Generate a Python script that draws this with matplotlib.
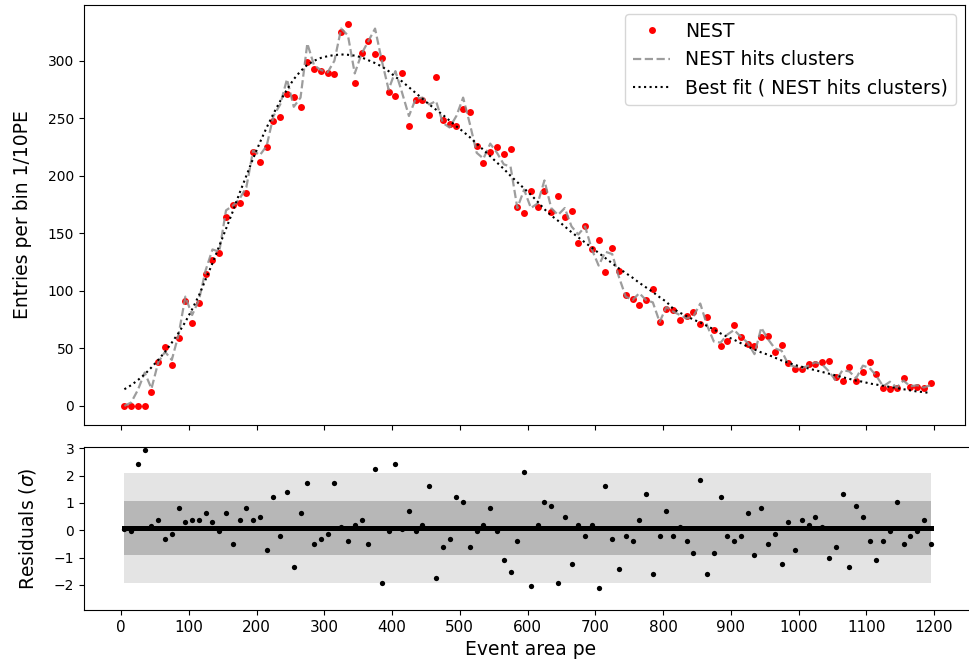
import numpy as np
import matplotlib
matplotlib.use("Agg")
import matplotlib.pyplot as plt

# bin centres (PE) for 10 PE bins
bin_width = 10
event_area = np.arange(5, 1200, bin_width)

# NEST entries per bin
nest = [0, 0, 0, 0, 12, 38.5, 51, 35.6, 59.4, 91.6,
        71.9, 89.8, 114.5, 127, 132.5, 163.8, 174.8, 176.2, 185.5, 220.3,
        211.9, 225.2, 247.8, 251, 271, 268.1, 259.7, 299.1, 292.8, 291,
        289.3, 288.1, 325, 331.9, 280.3, 306.9, 317.4, 306.1, 302, 272.8,
        269, 289.3, 243.5, 265.5, 265.5, 252.8, 286.1, 248.4, 245.2, 243.5,
        258, 255.7, 225.5, 211, 220.6, 225, 218.8, 223.5, 173.3, 167.5,
        187, 173.3, 187, 168.4, 182.9, 164.6, 169.6, 142, 156.2, 136.5,
        144, 116.5, 137.4, 117.7, 96.5, 93.3, 88.1, 91.9, 101.2, 73,
        84, 83.5, 74.8, 78.3, 81.5, 71, 77.7, 66.1, 52.2, 56.8,
        70.7, 60.3, 53.9, 52.4, 59.7, 61.2, 47.2, 53, 37.1, 31.9,
        32.2, 36, 36, 38, 39.4, 25.5, 21.7, 33.6, 21.7, 29.9,
        38.5, 28.1, 15.4, 15.1, 16, 24.3, 16.8, 16.8, 15.7, 19.7]

# NEST hits clusters entries per bin
hits_clusters = [0, 3, 14, 29, 15, 38, 47, 40, 62, 95,
                 79, 92, 118, 136, 134, 170, 174, 180, 190, 222,
                 218, 226, 252, 262, 284, 260, 268, 315, 296, 292,
                 290, 300, 328, 322, 289, 306, 317, 328, 300, 275,
                 291, 272, 252, 267, 268, 262, 265, 246, 242, 252,
                 268, 245, 220, 215, 228, 220, 210, 208, 172, 188,
                 172, 176, 196, 172, 166, 172, 156, 149, 156, 136,
                 122, 134, 132, 112, 95, 92, 98, 92, 90, 73,
                 86, 82, 79, 76, 78, 89, 70, 56, 55, 62,
                 66, 60, 55, 45, 68, 58, 50, 48, 36, 34,
                 33, 35, 38, 36, 30, 22, 31, 30, 24, 35,
                 33, 26, 17, 21, 16, 22, 17, 18, 16, 18]

# best-fit curve evaluated at each bin centre
best_fit = [14.5, 18, 22.5, 27.5, 33.5, 40, 47, 55, 63.5, 73,
            84, 96, 110, 124, 139, 154, 169, 185, 200, 215,
            229, 242, 254, 265, 275, 284, 291, 296.5, 300, 302.5,
            304, 305, 305.5, 305.2, 304.5, 303, 300.5, 298, 295, 291,
            286, 282, 277, 272, 267, 262, 257.5, 253, 248, 243,
            238.5, 233.5, 228, 222.5, 217, 211.5, 206, 200, 194.5, 189,
            183.5, 177.5, 171, 165.5, 161, 156, 151, 146.5, 142, 137.5,
            133, 128.5, 124, 119.5, 115.5, 111.5, 107, 103, 99, 94.5,
            90.5, 84.5, 81, 78, 75, 72.5, 69.5, 66.5, 63, 60,
            57.5, 54.5, 51.5, 49, 46.5, 44.5, 42, 39.5, 37.5, 35.5,
            34, 32.5, 31, 29.5, 28, 26.5, 25, 23.5, 22, 21,
            19.5, 18.5, 17.5, 16.5, 15.5, 14.5, 13.5, 12.5, 12, 11]

# residuals in units of sigma
residuals = [0.03, -0.01, 2.44, 2.94, 0.15, 0.39, -0.31, -0.13, 0.83, 0.32,
             0.39, 0.39, 0.64, 0.32, -0.01, 0.64, -0.52, 0.39, 0.83, 0.39,
             0.5, -0.71, 1.22, -0.2, 1.41, -1.34, 0.64, 1.74, -0.52, -0.31,
             -0.13, 1.74, 0.13, -0.39, 0.2, 0.39, -0.52, 2.25, -1.92, -0.01,
             2.44, 0.04, 0.71, -0.01, 0.2, 1.62, -1.73, -0.62, -0.31, 1.22,
             1.02, -0.62, -0.01, 0.2, 0.83, -0.01, -1.1, -1.53, -0.39, 2.13,
             -2.04, 0.2, 1.02, 0.9, -1.92, 0.5, -1.22, 0.2, -0.2, 0.2,
             -2.13, 1.62, -0.31, -1.41, -0.2, -0.39, 0.39, 1.34, -1.61, -0.2,
             0.71, -0.2, 0.13, -0.39, -0.83, 1.85, -1.61, -0.83, 1.22, -0.2,
             -0.39, -0.2, 0.64, -0.9, 0.83, -0.52, -0.13, -1.22, 0.32, -0.71,
             0.39, 0.2, 0.5, 0.13, -1.03, -0.62, 1.34, -1.34, 0.9, 0.5,
             -0.39, -1.1, -0.39, -0.01, 1.02, -0.52, -0.2, -0.01, 0.39, -0.52]

x_ticks = list(range(0, 1201, 100))
res_ticks = [-2, -1, 0, 1, 2, 3]

W, H = 969, 668
fig = plt.figure(figsize=(W / 100, H / 100), dpi=100)


def px_axes(left, top, right, bottom):
    return fig.add_axes([left / W, 1 - bottom / H, (right - left) / W, (bottom - top) / H])


# pixel position of x = 0 and pixels per PE on the shared axis
x0_px, px_per_pe = 121.0, 813.0 / 1200.0

ax = px_axes(84, 5, 965, 425)
axr = px_axes(84, 447, 978, 610)

ax.plot(event_area, nest, "o", color="red", ms=5, mew=0, label="NEST")
ax.plot(event_area, hits_clusters, "--", color="#8c8c8c", alpha=0.85, lw=1.6,
        label="NEST hits clusters")
ax.plot(event_area, best_fit, ":", color="black", lw=1.5,
        label="Best fit ( NEST hits clusters)")
ax.set_xlim((84 - x0_px) / px_per_pe, (965 - x0_px) / px_per_pe)
ax.set_xticks(x_ticks)
ax.tick_params(axis="x", labelbottom=False)
ax.tick_params(axis="y", labelsize=10)
ax.set_ylabel("Entries per bin 1/10PE", fontsize=13.5, labelpad=11.5)
ax.legend(loc="upper right", fontsize=13.5)

# residual panel with 1 and 2 sigma bands around the mean residual
res = np.asarray(residuals)
mean_res = res.mean()
axr.fill_between(event_area, mean_res - 2, mean_res + 2, color="#e4e4e4", lw=0)
axr.fill_between(event_area, mean_res - 1, mean_res + 1, color="#b7b7b7", lw=0)
axr.plot(event_area, np.full_like(res, mean_res), color="black", lw=3.6)
axr.plot(event_area, res, "o", color="black", ms=3.8, mew=0)
axr.set_xlim((84 - x0_px) / px_per_pe, (978 - x0_px) / px_per_pe)
axr.set_ylim(-2.92, 3.05)
axr.set_xticks(x_ticks)
axr.set_yticks(res_ticks)
axr.tick_params(axis="x", labelsize=11)
axr.tick_params(axis="y", labelsize=10)
axr.set_ylabel(r"Residuals ($\sigma$)", fontsize=13.5, labelpad=11.5)
axr.set_xlabel("Event area pe", fontsize=13.5)

fig.savefig("out.png", dpi=100)
